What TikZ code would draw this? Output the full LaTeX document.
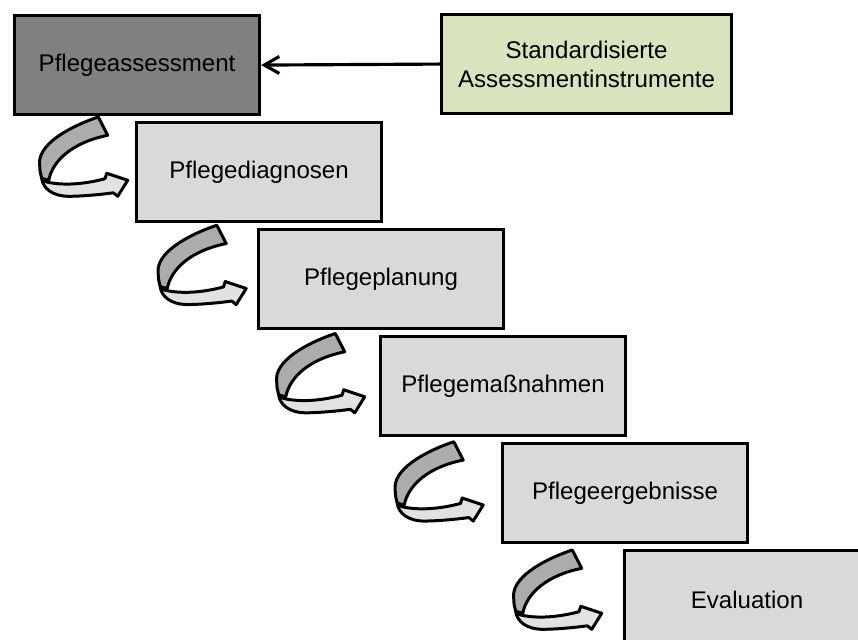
\documentclass[tikz,border=0pt]{standalone}
\usepackage{fontspec}
\setmainfont{Liberation Sans}
\usetikzlibrary{arrows.meta}
\definecolor{pflegedark}{RGB}{128,128,128}
\definecolor{pflegelight}{RGB}{217,217,217}
\definecolor{pflegegreen}{RGB}{215,228,189}
\definecolor{bandupper}{RGB}{172,172,172}
\definecolor{bandlower}{RGB}{226,226,226}

\tikzset{
	stepbox/.style={draw=black, line width=1.8pt, fill=pflegelight, anchor=north west,
		minimum width=4.9cm, minimum height=1.98cm, inner sep=0pt,
		font=\fontsize{13.7}{16.4}\selectfont},
	turnarrow/.pic={
		\filldraw[fill=bandlower, draw=black, line width=1.7pt, line join=round]
			(-86,-2) .. controls (-85,8) and (-75,16) .. (-59,16)
			.. controls (-45,16) and (-25,14) .. (-14.4,12.5) -- (-10,16) -- (0,0)
			-- (-21,-7) -- (-22.7,-1.6) .. controls (-40,3) and (-62,6) .. (-81,1.7) -- cycle;
		\filldraw[fill=bandupper, draw=black, line width=1.7pt, line join=round]
			(-29.4,-63.3) .. controls (-60,-53) and (-91,-35) .. (-88,-15)
			.. controls (-88,-9) and (-87,-6) .. (-86,-2) -- (-79,0)
			.. controls (-75,-20) and (-55,-38) .. (-20,-45) -- cycle;
	}
}

\begin{document}
\begin{tikzpicture}[x=0.02cm, y=-0.02cm]
\useasboundingbox (0,0) rectangle (858,639);
\clip (0,0) rectangle (858,639);

% the steps
\node[stepbox, fill=pflegedark] (assess) at (13,14) {Pflegeassessment};
\foreach \name/\txt [count=\i] in {diag/Pflegediagnosen, plan/Pflegeplanung,
		mass/Pflegemaßnahmen, erg/Pflegeergebnisse, eval/Evaluation}{
	\node[stepbox] (\name) at ({13+122*\i}, {14+107*\i}) {\txt};
}

% curved arrows between the steps
\foreach \i in {0, 1, 2, 3, 4}{
	\pic at ({127.7+118.5*\i}, {180.3+108.25*\i}) {turnarrow};
}

\node[stepbox, fill=pflegegreen, minimum width=5.8cm, align=center] (instr) at (440,13)
	{Standardisierte\\Assessmentinstrumente};
\draw[-{Straight Barb[length=3mm, width=3.4mm]}, line width=1.8pt] (instr.west) -- (assess.east);
\end{tikzpicture}
\end{document}
